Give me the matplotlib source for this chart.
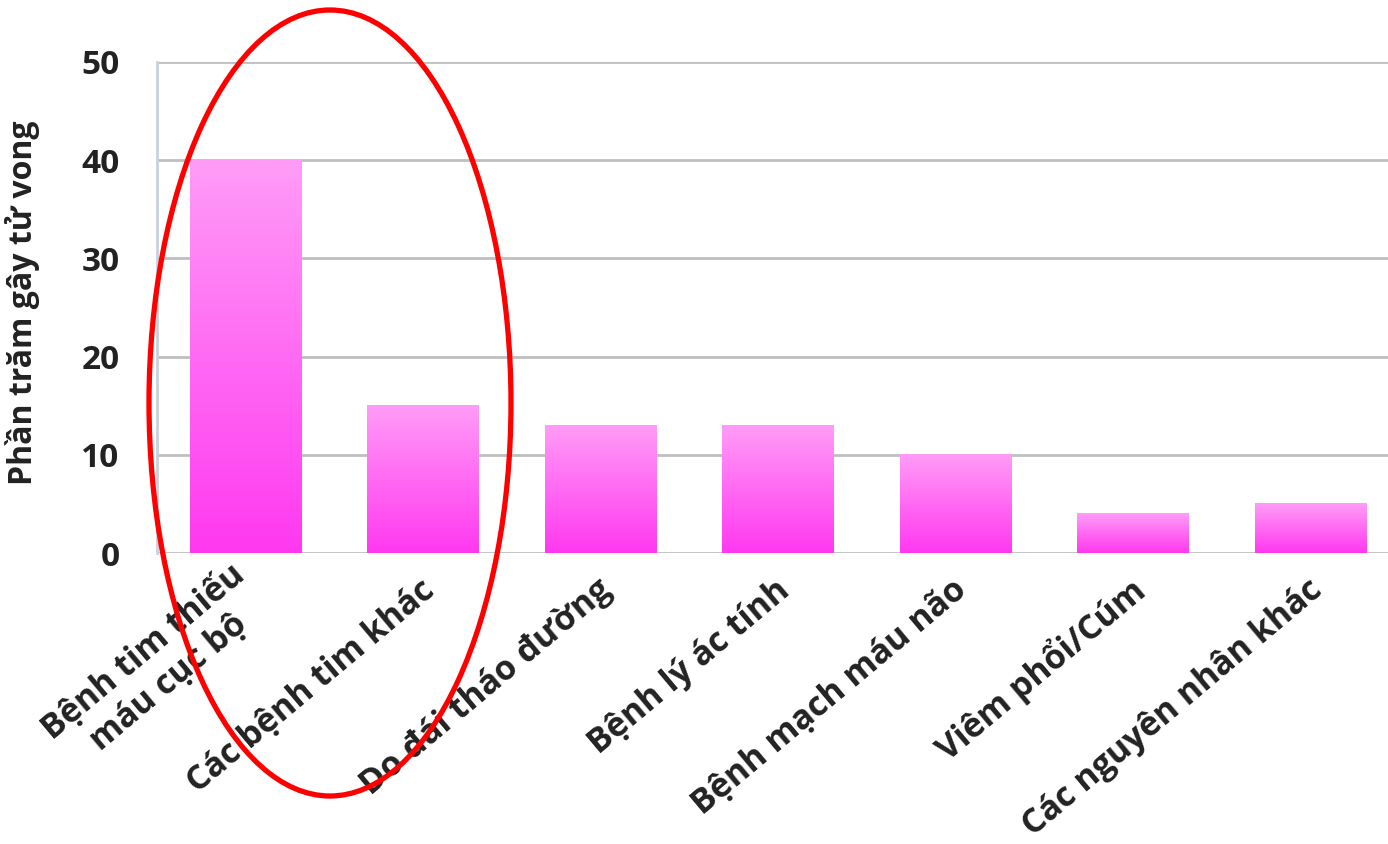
import numpy as np
import matplotlib
matplotlib.use('Agg')
import matplotlib.pyplot as plt
from matplotlib.patches import Ellipse
from matplotlib.colors import LinearSegmentedColormap
import matplotlib.transforms as mtransforms

plt.rcParams['font.family'] = ['Open Sans', 'DejaVu Sans']

categories = ['Bệnh tim thiếu\nmáu cục bộ', 'Các bệnh tim khác', 'Do đái tháo đường',
              'Bệnh lý ác tính', 'Bệnh mạch máu não', 'Viêm phổi/Cúm', 'Các nguyên nhân khác']
values = [40, 15, 13, 13, 10, 4, 5]
y_ticks = [0, 10, 20, 30, 40, 50]
y_label = 'Phần trăm gây tử vong'

fig = plt.figure(figsize=(13.88, 8.44), dpi=100)
ax = fig.add_axes([157/1388, 291/844, 1242.5/1388, 491/844])

x = np.arange(len(categories))
bars = ax.bar(x, values, width=0.63, color='none', zorder=3)

# gradient fill: light pink at top -> magenta at bottom
cmap = LinearSegmentedColormap.from_list('pinkgrad', ['#ff38f0', '#ff9cf7'])
grad = np.linspace(0, 1, 256).reshape(-1, 1)
for b in bars:
    x0, w, h = b.get_x(), b.get_width(), b.get_height()
    ax.imshow(grad, cmap=cmap, origin='lower', aspect='auto',
              extent=[x0, x0 + w, 0, h], zorder=3)

ax.set_xlim(-0.5, len(categories) - 0.5)
ax.set_ylim(0, 50)
ax.set_yticks(y_ticks)
ax.set_yticklabels([str(t) for t in y_ticks], fontsize=24, fontweight='bold', color='#222222')
ax.tick_params(axis='y', length=0, pad=27)
ax.grid(axis='y', color='#bfbfbf', linewidth=2, zorder=0)
ax.set_axisbelow(True)
for s in ['top', 'right', 'bottom']:
    ax.spines[s].set_visible(False)
ax.spines['left'].set_color('#c9d2dc')
ax.spines['left'].set_linewidth(2)

ax.set_xticks(x)
ax.set_xticklabels([])
ax.tick_params(axis='x', length=0)
offset = mtransforms.ScaledTranslation(0.07, -0.33, fig.dpi_scale_trans)
for xi, lab in zip(x, categories):
    ax.text(xi, 0, lab, rotation=40, rotation_mode='anchor', ha='right', va='center',
            multialignment='center', fontsize=24.5, fontweight='bold', color='#222222',
            transform=ax.get_xaxis_transform() + offset, clip_on=False)

ax.set_ylabel(y_label, fontsize=23, fontweight='bold', color='#222222')
ax.yaxis.set_label_coords(-117/1242.5, 0.51)

ell = Ellipse((330/1388, 1 - 403/844), 362/1388, 786/844, transform=fig.transFigure,
              fill=False, edgecolor='#ff0000', linewidth=3.8, zorder=10)
fig.patches.append(ell)

fig.savefig('out.png', dpi=100)
